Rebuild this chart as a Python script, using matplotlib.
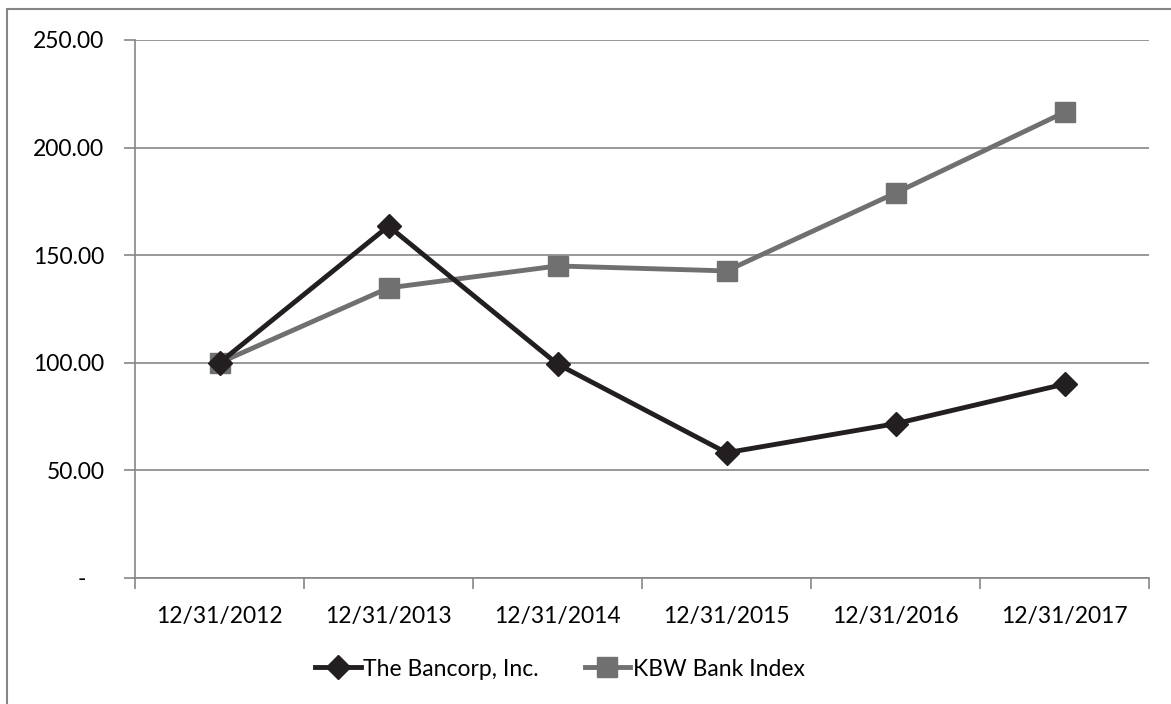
import matplotlib.pyplot as plt
from matplotlib.patches import Rectangle

# Data
dates = ['12/31/2012', '12/31/2013', '12/31/2014', '12/31/2015', '12/31/2016', '12/31/2017']
bancorp = [100.00, 163.5, 99.4, 58.2, 71.7, 90.1]
kbw = [100.00, 134.8, 145.0, 142.7, 178.9, 216.4]
yticks = [0, 50, 100, 150, 200, 250]
ytick_labels = ['-   ', '50.00', '100.00', '150.00', '200.00', '250.00']

plt.rcParams['font.family'] = ['Lato', 'DejaVu Sans']

fig = plt.figure(figsize=(11.71, 7.04), dpi=100)
ax = fig.add_axes([135/1171, 1 - 578/704, (1149 - 135)/1171, (578 - 40)/704])

# outer chart border (right and bottom edges are cut off in the reference)
fig.patches.append(Rectangle((7/1171, -0.1), 1.2, 1 - 9/704 + 0.1, transform=fig.transFigure,
                             fill=False, edgecolor='#868686', linewidth=1.5))

x = list(range(len(dates)))
ax.plot(x, kbw, color='#707070', linewidth=3.5, marker='s', markersize=14,
        label='KBW Bank Index', zorder=3)
ax.plot(x, bancorp, color='#231f20', linewidth=3.5, marker='D', markersize=12,
        label='The Bancorp, Inc.', zorder=4)

ax.set_xlim(-0.5, len(dates) - 0.5)
ax.set_ylim(0, 250)
ax.set_yticks(yticks)
ax.set_yticklabels(ytick_labels)
ax.set_xticks(x)
ax.set_xticklabels(dates)
ax.set_xticks([i - 0.5 for i in range(len(dates) + 1)], minor=True)

ax.grid(axis='y', color='#868686', linewidth=1.2)
ax.set_axisbelow(True)
for side in ['top', 'right']:
    ax.spines[side].set_visible(False)
for side in ['left', 'bottom']:
    ax.spines[side].set_color('#868686')
    ax.spines[side].set_linewidth(1.2)

ax.tick_params(axis='y', length=8, color='#868686', width=1.2, labelsize=16.5, pad=14)
ax.tick_params(axis='x', which='major', length=0, labelsize=16.5, pad=20)
ax.tick_params(axis='x', which='minor', length=8, color='#868686', width=1.2)
for lbl in ax.get_yticklabels():
    lbl.set_horizontalalignment('right')

handles, labels = ax.get_legend_handles_labels()
leg = fig.legend(handles[::-1], labels[::-1], loc='center', bbox_to_anchor=(0.478, 1 - 669/704),
                 ncol=2, frameon=False, fontsize=16.5, handlelength=2.0, handletextpad=0.1,
                 columnspacing=2.0)

fig.savefig('out.png', dpi=100)
